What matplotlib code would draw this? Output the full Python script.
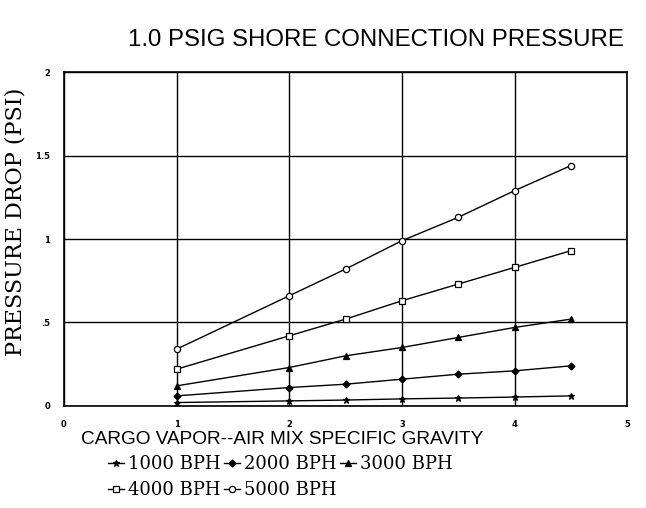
import numpy as np
import matplotlib
matplotlib.use('Agg')
import matplotlib.pyplot as plt

# specific gravity (x) and pressure drop (psi) per flow rate
sg = [1, 2, 2.5, 3, 3.5, 4, 4.5]
bph_1000 = [0.02, 0.03, 0.035, 0.042, 0.047, 0.053, 0.06]
bph_2000 = [0.06, 0.11, 0.13, 0.16, 0.19, 0.21, 0.24]
bph_3000 = [0.12, 0.23, 0.30, 0.35, 0.41, 0.47, 0.52]
bph_4000 = [0.22, 0.42, 0.52, 0.63, 0.73, 0.83, 0.93]
bph_5000 = [0.34, 0.66, 0.82, 0.99, 1.13, 1.29, 1.44]
labels = ['1000 BPH', '2000 BPH', '3000 BPH', '4000 BPH', '5000 BPH']
xticks = [0, 1, 2, 3, 4, 5]
yticks = [0, 0.5, 1, 1.5, 2]
yticklabels = ['0', '.5', '1', '1.5', '2']

fig = plt.figure(figsize=(6.46, 5.08), dpi=100)
ax = fig.add_axes([0.099, 0.201, 0.872, 0.657])

series = [bph_1000, bph_2000, bph_3000, bph_4000, bph_5000]
markers = ['*', 'D', '^', 's', 'o']
fills = ['black', 'black', 'black', 'white', 'white']
msizes = [5, 3.5, 4, 4.5, 4.5]
handles = []
for vals, m, fc, ms, lab in zip(series, markers, fills, msizes, labels):
    h, = ax.plot(sg, vals, color='black', lw=1, marker=m, ms=ms,
                 mfc=fc, mec='black', mew=0.9, label=lab)
    handles.append(h)

ax.set_xlim(0, 5)
ax.set_ylim(0, 2)
ax.set_xticks(xticks)
ax.set_yticks(yticks)
ax.set_yticklabels(yticklabels)
ax.grid(True, color='black', lw=1)
for s in ax.spines.values():
    s.set_linewidth(1.2)
ax.tick_params(length=0, labelsize=6, pad=10)
for t in ax.get_xticklabels() + ax.get_yticklabels():
    t.set_fontweight('bold')

fig.text(0.582, 0.921, '1.0 PSIG SHORE CONNECTION PRESSURE',
         ha='center', va='center', fontsize=17.3, family='Liberation Sans')
fig.text(0.437, 0.135, 'CARGO VAPOR--AIR MIX SPECIFIC GRAVITY',
         ha='center', va='center', fontsize=13.7, family='Liberation Sans')
fig.text(0.024, 0.563, 'PRESSURE DROP (PSI)', rotation=90,
         ha='center', va='center', fontsize=16, family='DejaVu Serif')

order = [0, 3, 1, 4, 2]
fig.legend([handles[i] for i in order], [labels[i] for i in order],
           loc='upper left', bbox_to_anchor=(0.167, 0.104), ncol=3,
           frameon=False, borderaxespad=0, borderpad=0,
           handlelength=0.9, handletextpad=0.2,
           columnspacing=0.2, labelspacing=0.45,
           prop={'family': 'DejaVu Serif', 'size': 13})

fig.savefig('out.png', dpi=100)
